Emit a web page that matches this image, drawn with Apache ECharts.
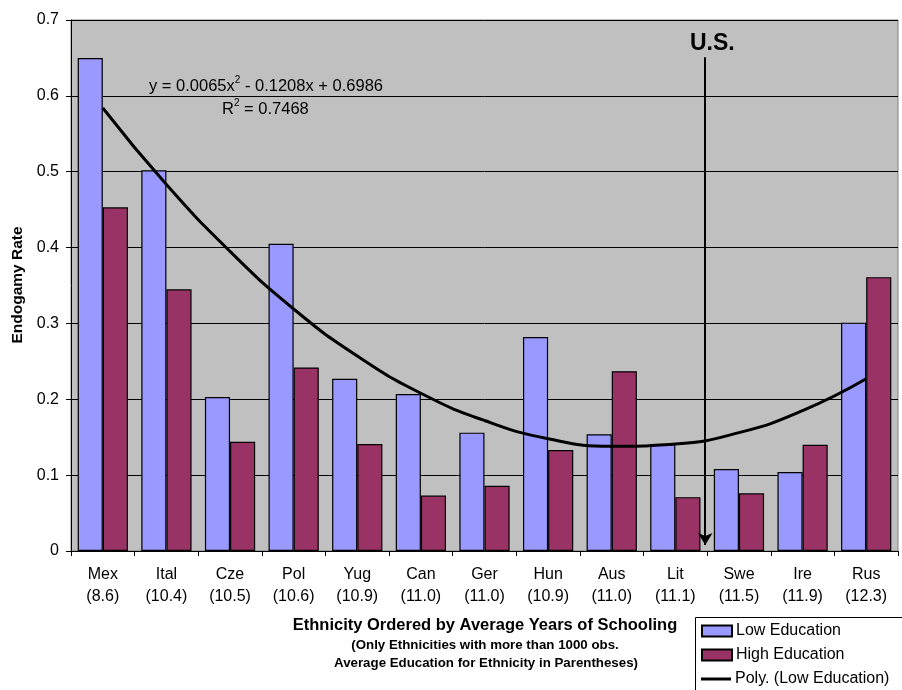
<!DOCTYPE html>
<html>
<head>
<meta charset="utf-8">
<script src="https://cdn.jsdelivr.net/npm/echarts@6/dist/echarts.min.js"></script>
<style>html,body{margin:0;padding:0;background:#fff;}#c{width:902px;height:690px;}</style>
</head>
<body>
<div id="c"></div>
<script>
const ethnicities = ['Mex','Ital','Cze','Pol','Yug','Can','Ger','Hun','Aus','Lit','Swe','Ire','Rus'];
const avgSchooling = ['8.6','10.4','10.5','10.6','10.9','11.0','11.0','10.9','11.0','11.1','11.5','11.9','12.3'];
const lowEducation = [0.650,0.502,0.203,0.405,0.227,0.207,0.156,0.282,0.154,0.141,0.108,0.104,0.301];
const highEducation = [0.453,0.345,0.144,0.242,0.141,0.073,0.086,0.133,0.237,0.071,0.076,0.140,0.361];
const polyTrend = [0.584,0.483,0.395,0.319,0.257,0.208,0.172,0.148,0.138,0.141,0.156,0.185,0.227];
const usMarker = [[9.97,0.651],[9.97,0.008]];
const yTicks = [0,0.1,0.2,0.3,0.4,0.5,0.6,0.7];
const seriesNames = ['Low Education','High Education','Poly. (Low Education)'];

const arial = "'Liberation Sans',Arial,sans-serif";
const categories = ethnicities.map((e,i)=>e+'\n('+avgSchooling[i]+')');

const legendRowsY = [631,655,679];
const legends = seriesNames.map((n,i)=>({
  orient:'vertical',left:701,top:legendRowsY[i]-9,padding:0,
  data:[i===2?{name:n,icon:'path://M0,0L30,0L30,3L0,3Z'}:{name:n,icon:'rect'}],
  itemWidth:30,itemHeight:11,selectedMode:false,
  textStyle:{color:'#000',fontFamily:arial,fontSize:16,lineHeight:18,padding:[0,0,0,-1]}
}));

const rich = {
  n:{fontSize:16.5,fontFamily:arial,color:'#000',lineHeight:20,verticalAlign:'bottom'},
  s:{fontSize:10,fontFamily:arial,color:'#000',lineHeight:20,verticalAlign:'top'}
};

const chart = echarts.init(document.getElementById('c'));
chart.setOption({
  animation:false,
  grid:{left:71,right:4,top:20,bottom:139,show:true,backgroundColor:'#C0C0C0',borderColor:'#808080',borderWidth:1},
  xAxis:[{
    type:'category',data:categories,
    axisLine:{lineStyle:{color:'#000',width:1}},
    axisTick:{show:true,alignWithLabel:false,length:5,lineStyle:{color:'#000'}},
    axisLabel:{color:'#000',fontFamily:arial,fontSize:16,lineHeight:22,margin:13,interval:0}
  },{
    type:'value',min:0,max:13,show:false
  }],
  yAxis:{
    type:'value',min:yTicks[0],max:yTicks[yTicks.length-1],interval:0.1,
    axisLine:{show:true,lineStyle:{color:'#000'}},
    axisTick:{show:true,length:5,lineStyle:{color:'#000'}},
    axisLabel:{color:'#000',fontFamily:arial,fontSize:16,margin:12},
    splitLine:{lineStyle:{color:'#000',width:1}}
  },
  legend:legends,
  series:[
    {name:seriesNames[0],type:'bar',data:lowEducation,barGap:'0%',barCategoryGap:'21%',
     itemStyle:{color:'#9999FF',borderColor:'#000',borderWidth:1.2}},
    {name:seriesNames[1],type:'bar',data:highEducation,
     itemStyle:{color:'#993366',borderColor:'#000',borderWidth:1.2}},
    {name:seriesNames[2],type:'line',data:polyTrend,smooth:true,symbol:'none',
     lineStyle:{color:'#000',width:3},itemStyle:{color:'#000'},z:5},
    {name:'US',type:'line',xAxisIndex:1,data:[],silent:true,
     markLine:{silent:true,symbol:['none','arrow'],symbolSize:[11,12],
       lineStyle:{color:'#000',width:2,type:'solid'},
       label:{show:true,position:'start',formatter:'U.S.',color:'#000',fontFamily:arial,fontWeight:'bold',fontSize:23,distance:2,offset:[7,0]},
       data:[[{coord:usMarker[0]},{coord:usMarker[1]}]]}}
  ],
  graphic:[
    {type:'rect',shape:{x:695.5,y:617.5,width:300,height:100},style:{fill:'none',stroke:'#000',lineWidth:1},silent:true},
    {type:'text',style:{text:'{n|y = 0.0065x}{s|2}{n| - 0.1208x + 0.6986}',rich:rich},x:149,y:75},
    {type:'text',style:{text:'{n|R}{s|2}{n| = 0.7468}',rich:rich},x:222,y:98},
    {type:'text',style:{text:'Ethnicity Ordered by Average Years of Schooling',fontFamily:arial,fontWeight:'bold',fontSize:16.5,fill:'#000',align:'center',verticalAlign:'middle'},x:485,y:625},
    {type:'text',style:{text:'(Only Ethnicities with more than 1000 obs.',fontFamily:arial,fontWeight:'bold',fontSize:13.3,fill:'#000',align:'center',verticalAlign:'middle'},x:485,y:645},
    {type:'text',style:{text:'Average Education for Ethnicity in Parentheses)',fontFamily:arial,fontWeight:'bold',fontSize:13.3,fill:'#000',align:'center',verticalAlign:'middle'},x:486,y:663},
    {type:'text',rotation:Math.PI/2,style:{text:'Endogamy Rate',fontFamily:arial,fontWeight:'bold',fontSize:15.5,fill:'#000',align:'center',verticalAlign:'middle'},x:18,y:285}
  ]
});
</script>
</body>
</html>
